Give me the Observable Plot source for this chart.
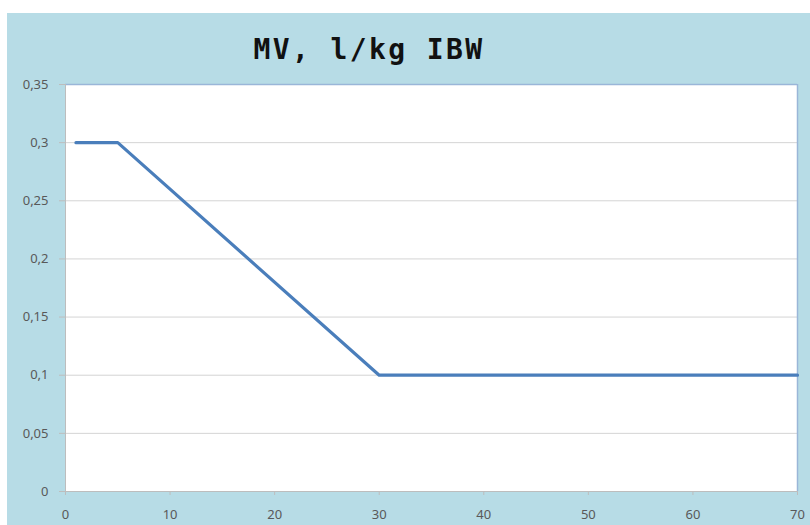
<!DOCTYPE html>
<html>
<head>
<meta charset="utf-8">
<script src="https://cdn.jsdelivr.net/npm/d3@7"></script>
<script src="https://cdn.jsdelivr.net/npm/@observablehq/plot@0.6"></script>
<style>
  html, body { margin: 0; padding: 0; background: #ffffff; }
  #panel {
    position: absolute; left: 7px; top: 13px; width: 803px; height: 512px;
    background: #b7dce6; overflow: hidden;
  }
  #title {
    position: absolute; left: 0; top: 22px; width: 724px; text-align: center;
    font-family: "DejaVu Sans Mono", monospace; font-weight: bold;
    font-size: 28px; letter-spacing: 2.4px; color: #111; line-height: 30px;
  }
  #chart { position: absolute; left: 0; top: 0; }
</style>
</head>
<body>
<div id="panel">
  <div id="chart"></div>
  <div id="title">MV, l/kg IBW</div>
</div>
<script>
// Minute ventilation per kg of ideal body weight
const xValues = [1, 5, 30, 70];
const mvValues = [0.3, 0.3, 0.1, 0.1];
const xTicks = [0, 10, 20, 30, 40, 50, 60, 70];
const yTicks = [0, 0.05, 0.1, 0.15, 0.2, 0.25, 0.3, 0.35];

const points = xValues.map((x, i) => ({x, y: mvValues[i]}));
const comma = d => String(d).replace(".", ",");
const labelFont = "Noto Sans, Open Sans, sans-serif";

const chart = Plot.plot({
  width: 803,
  height: 512,
  marginLeft: 58,
  marginRight: 13,
  marginTop: 71,
  marginBottom: 34,
  style: {background: "transparent", fontFamily: labelFont, fontSize: "13px", color: "#595959"},
  x: {domain: [0, 70], ticks: xTicks, tickFormat: d => String(d)},
  y: {domain: [0, 0.35], ticks: yTicks, tickFormat: comma},
  marks: [
    Plot.frame({fill: "white", stroke: null}),
    Plot.gridY(yTicks.filter(v => v > 0 && v < 0.35), {stroke: "#d4d4d4", strokeOpacity: 1}),
    Plot.ruleY([0.35], {stroke: "#9ab6d8", strokeWidth: 1.5}),
    Plot.ruleX([70], {stroke: "#9ab6d8", strokeWidth: 1.5}),
    Plot.ruleX([0], {stroke: "#bdbdbd"}),
    Plot.ruleY([0], {stroke: "#bdbdbd"}),
    Plot.axisY({ticks: yTicks, tickFormat: comma, tickSize: 6, tickPadding: 11,
      stroke: "#bdbdbd", fill: "#595959", label: null}),
    Plot.axisX({ticks: xTicks, tickSize: 4, tickPadding: 14,
      stroke: "#bdbdbd", fill: "#595959", label: null}),
    Plot.line(points, {x: "x", y: "y", stroke: "#4a7ebb", strokeWidth: 3.2,
      strokeLinejoin: "round", strokeLinecap: "round"})
  ]
});
document.getElementById("chart").appendChild(chart);
</script>
</body>
</html>
